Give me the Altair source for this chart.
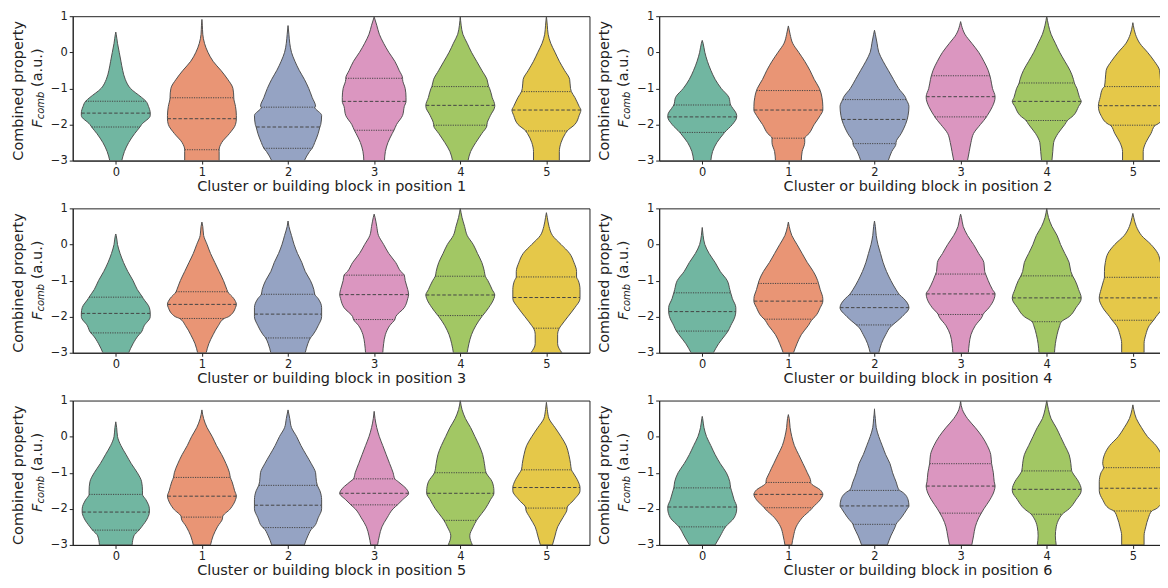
import altair as alt
import pandas as pd

CATEGORIES = [0, 1, 2, 3, 4, 5]
COLORS = ["#71b6a1", "#e99575", "#95a3c3", "#db96c0", "#a2c764", "#e5c849"]
LEVELS = [-3.0, -2.75, -2.5, -2.25, -2.0, -1.75, -1.5, -1.25, -1.0, -0.75,
          -0.5, -0.25, 0.0, 0.25, 0.5, 0.75]
Y_TICKS = [-3, -2, -1, 0, 1]

# ---- position 1 ----
TIP_1 = [0.56, 0.91, 0.74, 0.98, 1.0, 1.0]
WIDTH_1 = [
    [0.07, 0.10, 0.15, 0.22, 0.30, 0.40, 0.38, 0.30, 0.17, 0.11, 0.08, 0.06, 0.04, 0.02, 0.005, 0.0],
    [0.20, 0.20, 0.23, 0.32, 0.39, 0.40, 0.39, 0.37, 0.36, 0.30, 0.22, 0.13, 0.07, 0.03, 0.01, 0.005],
    [0.19, 0.25, 0.31, 0.35, 0.38, 0.39, 0.32, 0.28, 0.24, 0.19, 0.13, 0.08, 0.04, 0.02, 0.01, 0.0],
    [0.12, 0.13, 0.16, 0.21, 0.26, 0.33, 0.35, 0.37, 0.36, 0.33, 0.29, 0.24, 0.17, 0.11, 0.06, 0.03],
    [0.09, 0.12, 0.18, 0.25, 0.31, 0.35, 0.40, 0.37, 0.34, 0.31, 0.25, 0.19, 0.13, 0.08, 0.03, 0.01],
    [0.15, 0.15, 0.17, 0.22, 0.33, 0.38, 0.38, 0.33, 0.28, 0.27, 0.21, 0.15, 0.10, 0.05, 0.02, 0.01],
]
QUART_1 = [(-2.07, -1.685, -1.356), (-2.70, -1.84, -1.26), (-2.66, -2.07, -1.52),
           (-2.16, -1.36, -0.72), (-2.02, -1.47, -0.95), (-2.18, -1.60, -1.09)]
QWIDTH_1 = [(0.28, 0.40, 0.35), (0.20, 0.40, 0.37), (0.28, 0.37, 0.31),
            (0.23, 0.37, 0.33), (0.31, 0.40, 0.33), (0.24, 0.40, 0.29)]

# ---- position 2 ----
TIP_2 = [0.33, 0.73, 0.61, 0.85, 1.0, 0.82]
WIDTH_2 = [
    [0.10, 0.12, 0.17, 0.25, 0.35, 0.40, 0.34, 0.31, 0.22, 0.15, 0.10, 0.06, 0.03, 0.01, 0.0, 0.0],
    [0.15, 0.16, 0.19, 0.24, 0.30, 0.37, 0.40, 0.39, 0.36, 0.30, 0.25, 0.19, 0.12, 0.05, 0.02, 0.0],
    [0.16, 0.20, 0.25, 0.31, 0.36, 0.39, 0.40, 0.36, 0.28, 0.22, 0.16, 0.10, 0.05, 0.03, 0.01, 0.0],
    [0.08, 0.10, 0.12, 0.15, 0.23, 0.31, 0.37, 0.40, 0.37, 0.35, 0.32, 0.27, 0.21, 0.13, 0.05, 0.01],
    [0.06, 0.07, 0.08, 0.13, 0.21, 0.31, 0.37, 0.38, 0.35, 0.31, 0.27, 0.21, 0.15, 0.10, 0.05, 0.02],
    [0.12, 0.12, 0.15, 0.21, 0.28, 0.37, 0.40, 0.38, 0.35, 0.32, 0.31, 0.25, 0.17, 0.08, 0.03, 0.005],
]
QUART_2 = [(-2.22, -1.79, -1.46), (-2.38, -1.60, -1.06), (-2.53, -1.86, -1.31),
           (-1.79, -1.23, -0.65), (-1.89, -1.36, -0.85), (-2.02, -1.48, -0.95)]
QWIDTH_2 = [(0.26, 0.40, 0.33), (0.19, 0.40, 0.37), (0.25, 0.38, 0.37),
            (0.30, 0.40, 0.34), (0.24, 0.40, 0.32), (0.26, 0.40, 0.33)]

# ---- position 3 ----
TIP_3 = [0.29, 0.62, 0.65, 0.84, 1.0, 0.88]
WIDTH_3 = [
    [0.15, 0.20, 0.27, 0.33, 0.40, 0.39, 0.32, 0.25, 0.20, 0.14, 0.09, 0.05, 0.02, 0.005, 0.0, 0.0],
    [0.05, 0.08, 0.13, 0.19, 0.31, 0.39, 0.37, 0.29, 0.25, 0.20, 0.15, 0.10, 0.06, 0.02, 0.01, 0.0],
    [0.20, 0.23, 0.29, 0.35, 0.39, 0.39, 0.35, 0.30, 0.26, 0.20, 0.16, 0.11, 0.07, 0.04, 0.01, 0.0],
    [0.10, 0.11, 0.13, 0.18, 0.25, 0.35, 0.39, 0.39, 0.36, 0.31, 0.25, 0.17, 0.11, 0.05, 0.03, 0.01],
    [0.08, 0.10, 0.13, 0.18, 0.25, 0.33, 0.39, 0.37, 0.32, 0.28, 0.25, 0.20, 0.15, 0.08, 0.05, 0.02],
    [0.18, 0.13, 0.13, 0.17, 0.25, 0.33, 0.39, 0.39, 0.37, 0.35, 0.32, 0.27, 0.17, 0.07, 0.03, 0.01],
]
QUART_3 = [(-2.45, -1.91, -1.46), (-2.05, -1.66, -1.31), (-2.59, -1.93, -1.38),
           (-2.08, -1.39, -0.85), (-1.97, -1.40, -0.88), (-2.32, -1.47, -0.90)]
QWIDTH_3 = [(0.29, 0.40, 0.31), (0.26, 0.40, 0.30), (0.26, 0.39, 0.31),
            (0.24, 0.40, 0.35), (0.26, 0.40, 0.29), (0.15, 0.39, 0.35)]

# ---- position 4 ----
TIP_4 = [0.47, 0.62, 0.65, 0.84, 1.0, 0.86]
WIDTH_4 = [
    [0.13, 0.19, 0.27, 0.33, 0.38, 0.39, 0.35, 0.32, 0.29, 0.21, 0.15, 0.08, 0.03, 0.01, 0.0, 0.0],
    [0.06, 0.10, 0.15, 0.23, 0.31, 0.37, 0.40, 0.37, 0.34, 0.29, 0.22, 0.16, 0.10, 0.04, 0.01, 0.0],
    [0.05, 0.08, 0.13, 0.20, 0.32, 0.40, 0.34, 0.25, 0.19, 0.14, 0.10, 0.07, 0.04, 0.02, 0.01, 0.0],
    [0.09, 0.10, 0.12, 0.17, 0.25, 0.33, 0.39, 0.37, 0.32, 0.28, 0.27, 0.21, 0.15, 0.08, 0.03, 0.01],
    [0.09, 0.10, 0.12, 0.15, 0.26, 0.34, 0.40, 0.37, 0.33, 0.28, 0.26, 0.21, 0.16, 0.12, 0.06, 0.02],
    [0.13, 0.13, 0.15, 0.19, 0.27, 0.35, 0.39, 0.37, 0.34, 0.33, 0.32, 0.29, 0.21, 0.10, 0.04, 0.01],
]
QUART_4 = [(-2.40, -1.86, -1.34), (-2.07, -1.57, -1.08), (-2.23, -1.75, -1.39),
           (-1.94, -1.37, -0.82), (-2.14, -1.48, -0.87), (-2.10, -1.48, -0.91)]
QWIDTH_4 = [(0.30, 0.39, 0.33), (0.28, 0.40, 0.35), (0.21, 0.40, 0.29),
            (0.26, 0.40, 0.29), (0.17, 0.40, 0.30), (0.24, 0.39, 0.33)]

# ---- position 5 ----
TIP_5 = [0.41, 0.74, 0.74, 0.70, 1.0, 0.95]
WIDTH_5 = [
    [0.19, 0.21, 0.30, 0.37, 0.39, 0.35, 0.31, 0.30, 0.25, 0.18, 0.12, 0.06, 0.02, 0.01, 0.0, 0.0],
    [0.10, 0.13, 0.18, 0.24, 0.33, 0.39, 0.38, 0.35, 0.32, 0.28, 0.23, 0.17, 0.12, 0.06, 0.02, 0.0],
    [0.19, 0.23, 0.30, 0.35, 0.39, 0.39, 0.37, 0.33, 0.32, 0.27, 0.21, 0.15, 0.10, 0.04, 0.02, 0.0],
    [0.04, 0.06, 0.09, 0.15, 0.22, 0.33, 0.39, 0.28, 0.22, 0.18, 0.14, 0.10, 0.06, 0.03, 0.01, 0.0],
    [0.14, 0.11, 0.15, 0.21, 0.29, 0.35, 0.39, 0.37, 0.30, 0.28, 0.26, 0.22, 0.17, 0.12, 0.06, 0.02],
    [0.07, 0.10, 0.13, 0.19, 0.24, 0.32, 0.39, 0.37, 0.31, 0.28, 0.26, 0.23, 0.17, 0.10, 0.03, 0.01],
]
QUART_5 = [(-2.59, -2.09, -1.60), (-2.23, -1.65, -1.13), (-2.52, -1.90, -1.35),
           (-1.89, -1.57, -1.17), (-2.32, -1.57, -1.00), (-1.98, -1.41, -0.92)]
QWIDTH_5 = [(0.27, 0.39, 0.31), (0.24, 0.40, 0.33), (0.29, 0.39, 0.34),
            (0.27, 0.40, 0.24), (0.19, 0.39, 0.30), (0.24, 0.39, 0.29)]

# ---- position 6 ----
TIP_6 = [0.56, 0.61, 0.77, 0.98, 1.0, 0.88]
WIDTH_6 = [
    [0.15, 0.21, 0.27, 0.37, 0.40, 0.37, 0.34, 0.32, 0.28, 0.21, 0.15, 0.10, 0.05, 0.02, 0.005, 0.0],
    [0.04, 0.06, 0.09, 0.16, 0.27, 0.37, 0.38, 0.26, 0.22, 0.17, 0.12, 0.07, 0.04, 0.02, 0.01, 0.0],
    [0.15, 0.19, 0.24, 0.31, 0.38, 0.39, 0.30, 0.25, 0.21, 0.18, 0.13, 0.09, 0.05, 0.02, 0.01, 0.0],
    [0.13, 0.15, 0.17, 0.21, 0.27, 0.34, 0.39, 0.39, 0.38, 0.36, 0.35, 0.31, 0.25, 0.17, 0.08, 0.02],
    [0.11, 0.10, 0.11, 0.15, 0.26, 0.34, 0.40, 0.37, 0.30, 0.28, 0.26, 0.21, 0.16, 0.11, 0.05, 0.02],
    [0.13, 0.13, 0.15, 0.18, 0.27, 0.35, 0.39, 0.39, 0.37, 0.35, 0.33, 0.27, 0.17, 0.10, 0.04, 0.01],
]
QUART_6 = [(-2.50, -1.95, -1.42), (-1.97, -1.60, -1.27), (-2.43, -1.92, -1.49),
           (-2.12, -1.37, -0.75), (-2.15, -1.46, -0.95), (-2.06, -1.43, -0.86)]
QWIDTH_6 = [(0.27, 0.40, 0.33), (0.28, 0.40, 0.26), (0.25, 0.40, 0.29),
            (0.24, 0.40, 0.36), (0.18, 0.40, 0.29), (0.22, 0.39, 0.34)]

PANELS = [
    (1, TIP_1, WIDTH_1, QUART_1, QWIDTH_1),
    (2, TIP_2, WIDTH_2, QUART_2, QWIDTH_2),
    (3, TIP_3, WIDTH_3, QUART_3, QWIDTH_3),
    (4, TIP_4, WIDTH_4, QUART_4, QWIDTH_4),
    (5, TIP_5, WIDTH_5, QUART_5, QWIDTH_5),
    (6, TIP_6, WIDTH_6, QUART_6, QWIDTH_6),
]

FONT = "DejaVu Sans"
PW, PH = 519, 145
INK = "#222222"
EDGE = "#505050"
QLINE = "#454545"


def panel_frames(tips, widths, quarts, qwidths):
    outline, lines = [], []
    for c in CATEGORIES:
        pts = [(lv, w) for lv, w in zip(LEVELS, widths[c]) if lv < tips[c]]
        pts += list(zip(quarts[c], qwidths[c]))
        pts.append((tips[c], 0.0))
        pts.sort()
        for yv, w in pts:
            outline.append({"cat": str(c), "y": yv, "w": w, "idx": c})
        for kind, q, w in zip(["quartile", "median", "quartile"], quarts[c], qwidths[c]):
            lines.append({"cat": str(c), "y": q, "w": w, "idx": c, "kind": kind})
    return pd.DataFrame(outline), pd.DataFrame(lines)


def make_panel(num, tips, widths, quarts, qwidths):
    outline, lines = panel_frames(tips, widths, quarts, qwidths)
    xs = alt.Scale(domain=[-0.5, 5.5], nice=False, zero=False)
    ys = alt.Scale(domain=[-3, 1], nice=False, zero=False)
    xaxis = alt.Axis(values=CATEGORIES, format="d", labelAngle=0, grid=False,
                     labelOverlap=False, tickCount=6,
                     title=f"Cluster or building block in position {num}")
    yaxis = alt.Axis(values=Y_TICKS, format="d", grid=False, title=None,
                     labelOverlap=False, tickCount=5)

    violins = alt.Chart(outline).transform_calculate(
        lo="datum.idx - datum.w", hi="datum.idx + datum.w"
    ).mark_area(orient="horizontal", interpolate="monotone", stroke=EDGE,
                strokeWidth=1, clip=True, opacity=1, fillOpacity=1).encode(
        x=alt.X("lo:Q", scale=xs, axis=xaxis, stack=None),
        x2="hi:Q",
        y=alt.Y("y:Q", scale=ys, axis=yaxis),
        color=alt.Color("cat:N", scale=alt.Scale(domain=[str(c) for c in CATEGORIES],
                                                 range=COLORS), legend=None),
    )
    base_lines = alt.Chart(lines).transform_calculate(
        lo="datum.idx - datum.w", hi="datum.idx + datum.w"
    )
    med = base_lines.transform_filter("datum.kind == 'median'").mark_rule(
        color=QLINE, strokeWidth=1, strokeDash=[3.5, 2], clip=True).encode(
        x=alt.X("lo:Q", scale=xs, axis=xaxis), x2="hi:Q",
        y=alt.Y("y:Q", scale=ys, axis=yaxis))
    qrt = base_lines.transform_filter("datum.kind == 'quartile'").mark_rule(
        color=QLINE, strokeWidth=1, strokeDash=[1.2, 1.2], clip=True).encode(
        x=alt.X("lo:Q", scale=xs, axis=xaxis), x2="hi:Q",
        y=alt.Y("y:Q", scale=ys, axis=yaxis))

    def label(txt, x, y, size, italic=False, align="center"):
        kw = dict(angle=270, align=align, baseline="middle", fontSize=size,
                  font=FONT, color=INK)
        if italic:
            kw["fontStyle"] = "italic"
        return alt.Chart(pd.DataFrame({"t": [txt]})).mark_text(**kw).encode(
            text="t:N", x=alt.value(x), y=alt.value(y))

    mid = PH / 2
    t1 = label("Combined property", -54, mid + 2.5, 14.5)
    t2 = label("F", -35, mid + 39.5, 14.5, italic=True, align="left")
    t3 = label("comb", -32, mid + 31, 10, italic=True, align="left")
    t4 = label("(a.u.)", -35, mid - 1.5, 14.5, align="left")

    return alt.layer(violins, med, qrt, t1, t2, t3, t4).properties(width=PW, height=PH)


panels = [make_panel(*p) for p in PANELS]
rows = [alt.hconcat(panels[i], panels[i + 1], spacing=6) for i in (0, 2, 4)]


def assemble(pad):
    return alt.vconcat(*rows, spacing=8).properties(padding=pad).configure_view(
        stroke=INK, strokeWidth=1
    ).configure_axis(
        labelFont=FONT, titleFont=FONT, labelFontSize=11.5, titleFontSize=14.5,
        labelColor=INK, titleColor=INK, domainColor=INK, tickColor=INK,
        tickSize=3.5, labelPadding=2, titlePadding=2, titleFontWeight="normal",
        labelOverlap=False
    )


chart = assemble({"left": 2, "top": 0, "right": -17, "bottom": 0})
try:
    chart.to_dict()
except Exception:
    chart = assemble({"left": 2, "top": 0, "right": 0, "bottom": 0})

chart.save("out.html", embed_options={"renderer": "svg", "actions": False})
